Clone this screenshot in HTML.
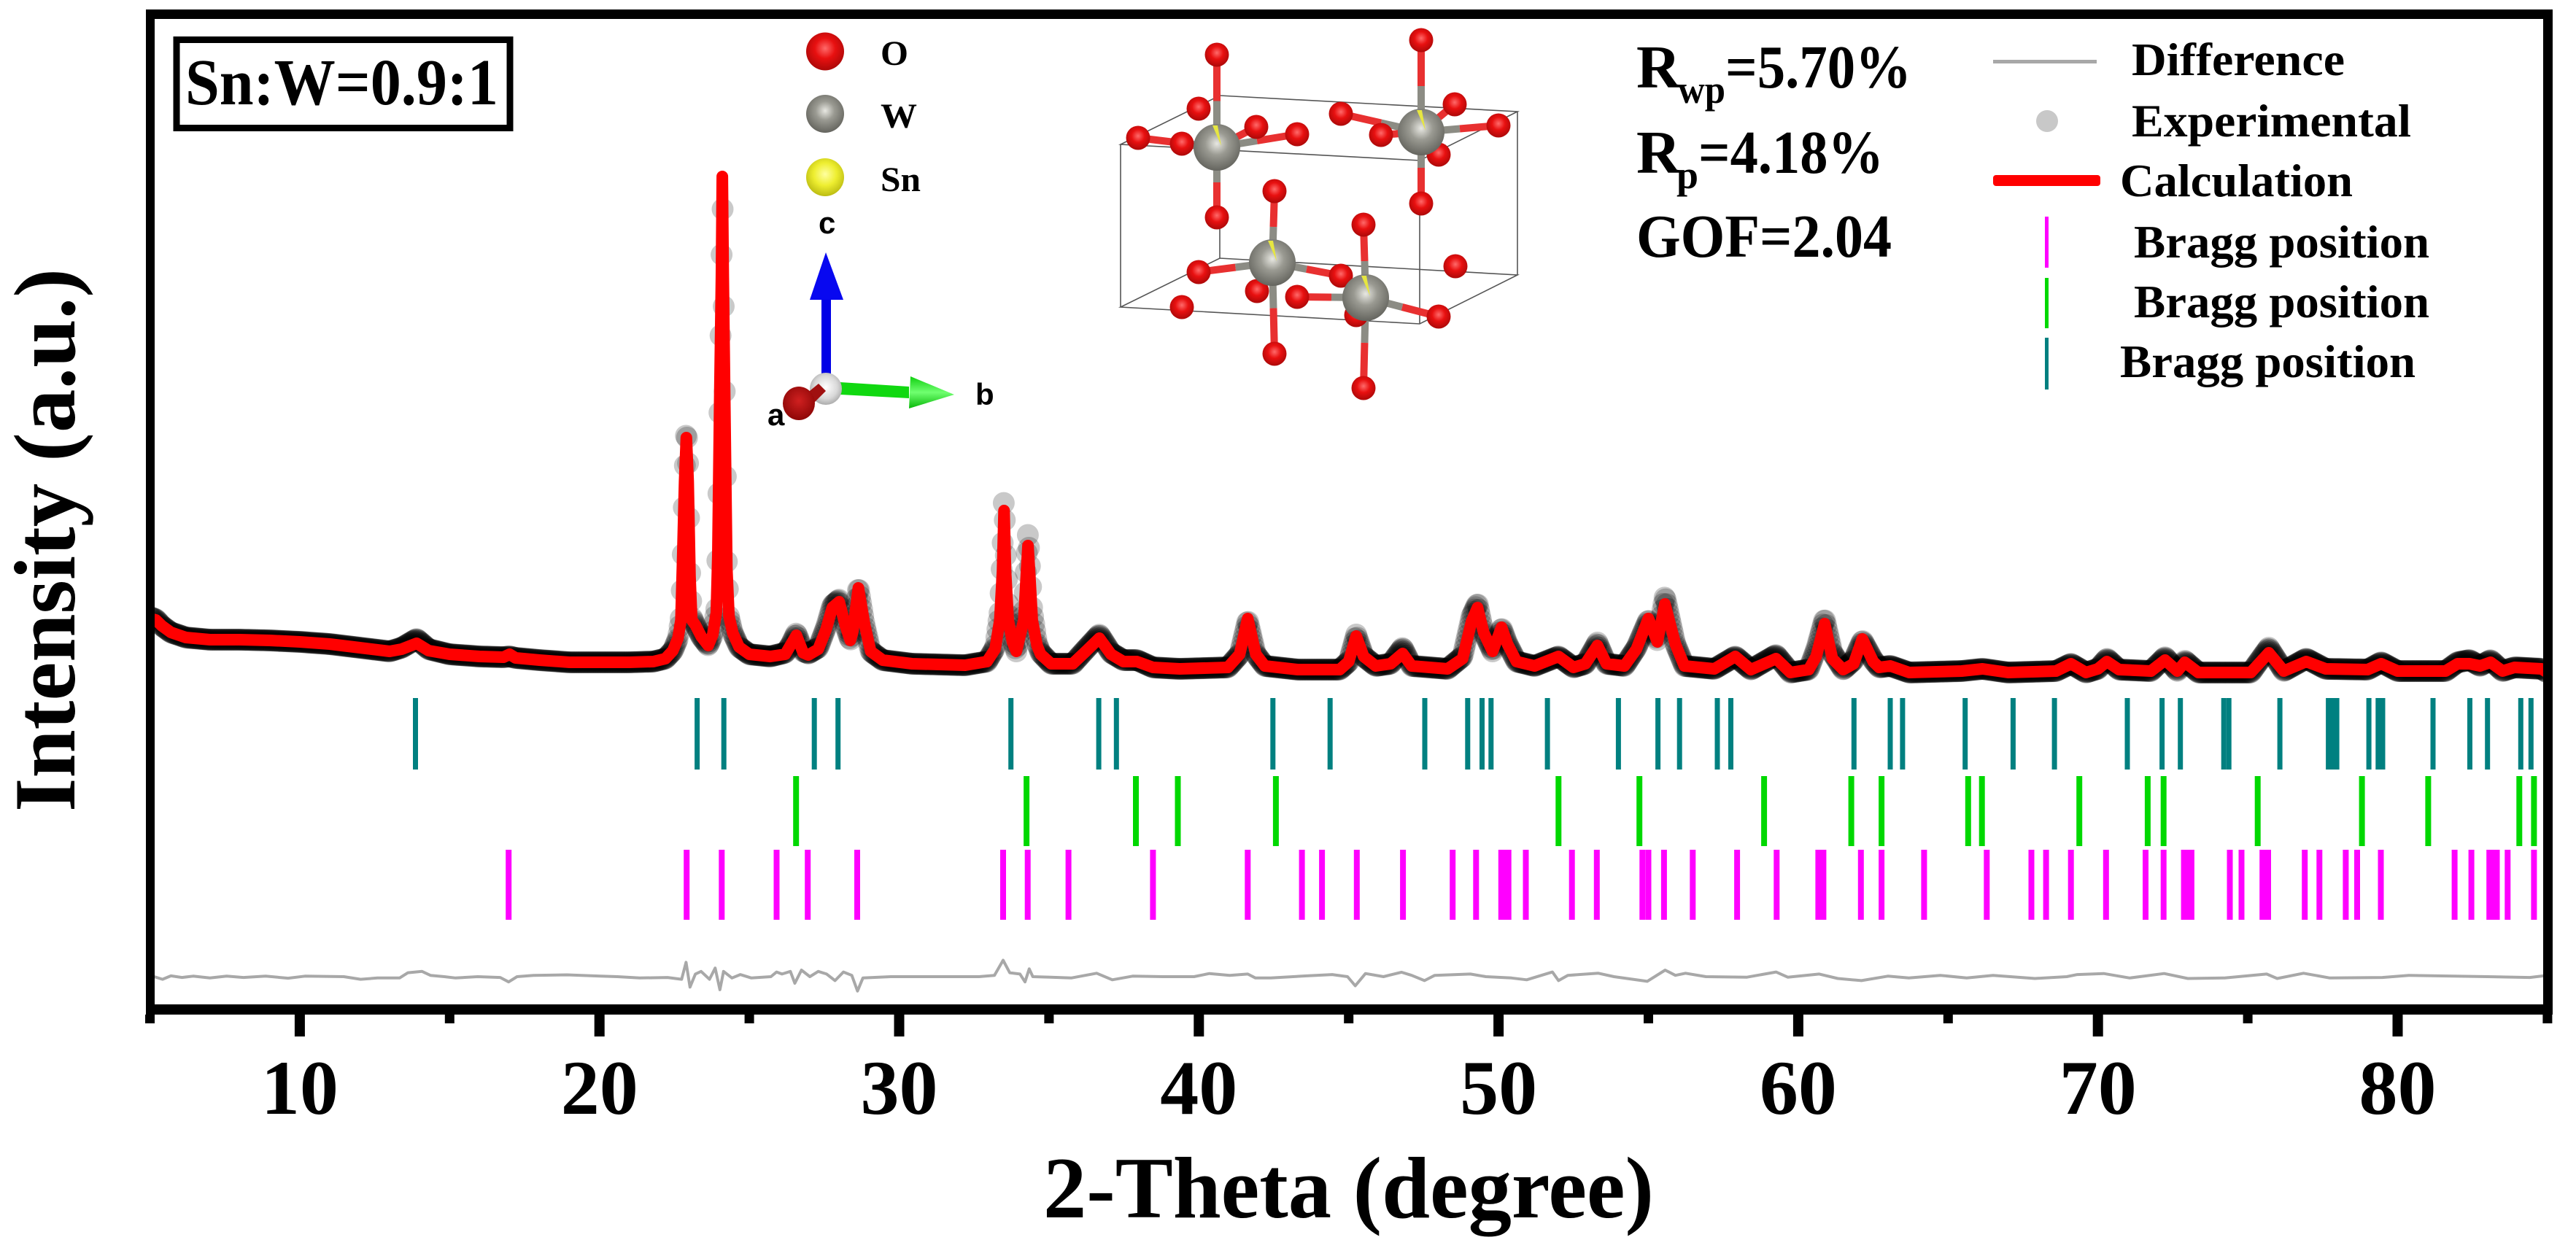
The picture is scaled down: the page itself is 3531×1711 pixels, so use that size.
<!DOCTYPE html>
<html lang="en">
<head>
<meta charset="utf-8">
<title>Rietveld refinement Sn:W=0.9:1</title>
<style>
html,body{margin:0;padding:0;background:#fff;}
svg{display:block;}
text{font-family:"Liberation Serif",serif;font-weight:bold;fill:#000;}
.sans{font-family:"Liberation Sans",sans-serif;}
</style>
</head>
<body>
<svg id="chart" xmlns="http://www.w3.org/2000/svg" width="3531" height="1711" viewBox="0 0 3531 1711">
<defs>
<clipPath id="plot-clip"><rect x="205" y="20" width="3287" height="1360"/></clipPath>
<radialGradient id="ball-red" cx="0.5" cy="0.42" r="0.6"><stop offset="0" stop-color="#ff6a6a"/><stop offset="0.45" stop-color="#e81010"/><stop offset="1" stop-color="#a80808"/></radialGradient>
<radialGradient id="ball-dark-red" cx="0.5" cy="0.42" r="0.6"><stop offset="0" stop-color="#d02020"/><stop offset="1" stop-color="#8c0606"/></radialGradient>
<radialGradient id="ball-grey" cx="0.5" cy="0.42" r="0.62"><stop offset="0" stop-color="#e8e8e2"/><stop offset="0.4" stop-color="#9a9a92"/><stop offset="1" stop-color="#5e5e58"/></radialGradient>
<radialGradient id="ball-yellow" cx="0.5" cy="0.42" r="0.6"><stop offset="0" stop-color="#ffffa0"/><stop offset="0.5" stop-color="#eeee30"/><stop offset="1" stop-color="#b8b810"/></radialGradient>
<radialGradient id="ball-white" cx="0.5" cy="0.45" r="0.6"><stop offset="0" stop-color="#ffffff"/><stop offset="0.6" stop-color="#d8d8d8"/><stop offset="1" stop-color="#a0a0a0"/></radialGradient>
<linearGradient id="arrow-green" x1="0" y1="0" x2="0" y2="1"><stop offset="0" stop-color="#10d010"/><stop offset="0.5" stop-color="#70ff70"/><stop offset="1" stop-color="#08b808"/></linearGradient>
</defs>

<g id="data-layer" clip-path="url(#plot-clip)">
<g id="experimental-series"></g>
<polyline id="calculation-line" fill="none" stroke="#ff0000" stroke-width="16" stroke-linejoin="round" stroke-linecap="butt"/>
<polyline id="difference-line" fill="none" stroke="#a8a8a8" stroke-width="4" stroke-linejoin="round"/>
<g id="bragg-teal"></g>
<g id="bragg-green"></g>
<g id="bragg-magenta"></g>
</g>

<g fill="#000">
<rect x="200" y="13" width="3299" height="13"/>
<rect x="200" y="13" width="12" height="1378"/>
<rect x="3486" y="13" width="13" height="1378"/>
<rect x="200" y="1377" width="3299" height="14"/>
</g>
<g id="x-ticks"></g>
<g id="x-labels" font-size="106" text-anchor="middle"></g>

<text x="1430" y="1669" font-size="120" textLength="837" lengthAdjust="spacingAndGlyphs">2-Theta (degree)</text>
<text transform="translate(102,1113) rotate(-90)" font-size="120" textLength="745" lengthAdjust="spacingAndGlyphs">Intensity (a.u.)</text>

<g>
<rect x="242" y="54.5" width="457" height="121" fill="#fff" stroke="#000" stroke-width="9"/>
<text x="254" y="143" font-size="90" textLength="429" lengthAdjust="spacingAndGlyphs">Sn:W=0.9:1</text>
</g>

<g>
<circle cx="1131" cy="70.5" r="26" fill="url(#ball-red)"/>
<text x="1207" y="89" font-size="48" textLength="38" lengthAdjust="spacingAndGlyphs">O</text>
<circle cx="1131" cy="156" r="26" fill="url(#ball-grey)"/>
<text x="1207" y="175" font-size="48" textLength="50" lengthAdjust="spacingAndGlyphs">W</text>
<circle cx="1131" cy="243" r="26" fill="url(#ball-yellow)"/>
<text x="1207" y="262" font-size="48" textLength="55" lengthAdjust="spacingAndGlyphs">Sn</text>
</g>

<g>
<rect x="1126" y="405" width="13" height="110" fill="#0000e6"/>
<polygon points="1132,346 1110,411 1156,411" fill="#0808f0"/>
<polygon points="1152,524 1246,530 1246,546 1152,541" fill="#10d810"/>
<polygon points="1248,516 1308,541 1246,560" fill="url(#arrow-green)"/>
<circle cx="1132" cy="533" r="22" fill="url(#ball-white)"/>
<polygon points="1105,540 1122,526 1132,536 1112,556" fill="#a01010"/>
<ellipse cx="1095" cy="553" rx="22" ry="23" fill="url(#ball-dark-red)"/>
<text class="sans" x="1122" y="320" font-size="42">c</text>
<text class="sans" x="1052" y="583" font-size="42">a</text>
<text class="sans" x="1337" y="555" font-size="42">b</text>
</g>

<g id="crystal">
<g fill="none" stroke="#555" stroke-width="1.6">
<polygon points="1672,131 2080,153 1946,220 1536,198"/>
<polygon points="1672,354 2080,377 1946,444 1536,421"/>
<line x1="1536" y1="198" x2="1536" y2="421"/>
<line x1="1946" y1="220" x2="1946" y2="444"/>
<line x1="2080" y1="153" x2="2080" y2="377"/>
<line x1="1672" y1="131" x2="1672" y2="354"/>
</g>
<g id="bonds" stroke-width="10"></g>
<g id="oxygen-atoms"></g>
<g id="metal-atoms"></g>
</g>

<g>
<text x="2243" y="120" font-size="84">R</text>
<text x="2300" y="141" font-size="54" textLength="65" lengthAdjust="spacingAndGlyphs">wp</text>
<text x="2365" y="120" font-size="84" textLength="255" lengthAdjust="spacingAndGlyphs">=5.70%</text>
<text x="2243" y="237" font-size="84">R</text>
<text x="2298" y="258" font-size="54" textLength="30" lengthAdjust="spacingAndGlyphs">p</text>
<text x="2328" y="237" font-size="84" textLength="254" lengthAdjust="spacingAndGlyphs">=4.18%</text>
<text x="2243" y="352" font-size="84" textLength="350" lengthAdjust="spacingAndGlyphs">GOF=2.04</text>
</g>

<g>
<g>
<rect x="2732" y="82" width="142" height="5" fill="#a8a8a8"/>
<text x="2922" y="103" font-size="64" textLength="292" lengthAdjust="spacingAndGlyphs">Difference</text>
</g>
<g>
<circle cx="2806" cy="166" r="15" fill="#c8c8c8"/>
<text x="2922" y="187" font-size="64" textLength="383" lengthAdjust="spacingAndGlyphs">Experimental</text>
</g>
<g>
<rect x="2732" y="240" width="147" height="15" rx="4" fill="#ff0000"/>
<text x="2906" y="269" font-size="64" textLength="319" lengthAdjust="spacingAndGlyphs">Calculation</text>
</g>
<g>
<rect x="2803" y="297" width="5" height="70" fill="#ff00ff"/>
<text x="2925" y="353" font-size="64" textLength="405" lengthAdjust="spacingAndGlyphs">Bragg position</text>
</g>
<g>
<rect x="2803" y="381" width="5" height="69" fill="#00d800"/>
<text x="2925" y="435" font-size="64" textLength="405" lengthAdjust="spacingAndGlyphs">Bragg position</text>
</g>
<g>
<rect x="2803" y="463" width="5" height="71" fill="#008080"/>
<text x="2906" y="517" font-size="64" textLength="405" lengthAdjust="spacingAndGlyphs">Bragg position</text>
</g>
</g>
</svg>

<script>
// ---- chart data ----
const thetaDeg = [
5.0,5.2,5.4,5.7,6.2,7.0,8.0,9.0,10.0,11.0,
12.0,13.0,13.4,13.9,14.3,15.0,16.0,16.8,17.0,17.2,
18.0,19.0,20.0,21.0,21.8,22.2,22.45,22.62,22.72,22.78,
22.84,22.9,22.96,23.02,23.08,23.2,23.4,23.63,23.78,23.9,
23.95,24.01,24.07,24.1,24.13,24.19,24.25,24.32,24.45,24.66,
25.0,25.7,26.2,26.37,26.57,26.8,26.97,27.3,27.56,27.77,
28.0,28.2,28.37,28.45,28.64,28.85,29.05,29.45,30.43,32.2,
32.93,33.2,33.36,33.45,33.5,33.55,33.64,33.78,33.91,34.16,34.24,34.3,34.36,34.44,34.6,34.72,
35.07,35.79,36.23,36.68,37.07,37.48,37.93,38.47,39.36,40.97,
41.36,41.63,41.9,42.2,43.3,44.7,45.0,45.25,45.5,45.9,
46.4,46.8,47.1,48.3,48.8,49.1,49.3,49.5,49.8,50.1,
50.3,50.6,51.2,52.0,52.5,52.9,53.3,53.6,54.2,54.6,
55.0,55.3,55.55,55.9,56.2,57.2,57.9,58.42,59.26,59.74,
60.35,60.6,60.88,61.14,61.5,61.85,62.14,62.5,62.7,63.07,
63.7,65.45,66.15,67.0,68.6,69.1,69.6,70.0,70.3,70.7,
71.77,72.24,72.65,72.9,73.35,75.1,75.7,76.2,76.95,77.6,
79.0,79.45,80.0,81.6,82.0,82.4,82.75,83.1,83.5,83.9,84.8,85.0];
const calcIntensity = [
529,527,519,510,503,500,500,499,497,494,
489,484,487,495,485,480,477,476,480,475,
472,469,469,469,470,474,485,502,527,617,
717,777,717,587,527,520,504,492,507,537,
617,817,997,1135,997,797,597,532,509,490,
480,477,480,492,506,482,479,487,514,544,
552,520,499,510,571,520,484,472,467,465,
470,487,527,594,677,594,527,497,484,527,587,629,587,527,492,480,
467,467,484,502,480,470,470,462,460,462,
480,529,480,464,459,459,470,505,477,464,
467,481,464,460,474,525,544,510,484,517,
494,470,464,477,462,467,492,467,464,487,
529,497,549,494,464,460,477,459,474,455,
459,477,522,474,459,467,501,470,462,464,
455,457,460,455,457,467,455,460,470,459,
457,472,457,469,455,455,482,457,470,460,
459,467,457,457,467,467,464,469,457,462,460,455];
const expIntensity = [
531,528,519,510,503,500,500,499,497,494,
489,484,489,501,487,480,477,476,477,475,
472,469,469,469,470,474,485,502,532,617,
727,797,737,597,531,520,504,492,507,542,
637,827,1007,1132,1007,807,607,532,509,490,
480,477,482,492,509,484,481,489,517,547,
555,520,499,510,573,520,484,472,467,465,
470,489,540,625,703,625,540,500,484,540,605,647,605,540,495,482,
467,467,487,507,482,472,472,462,460,462,
480,527,480,464,459,459,470,507,477,464,
467,489,464,460,477,532,550,510,484,516,
494,470,464,477,462,467,496,467,464,489,
527,499,560,494,464,460,477,459,479,455,
459,487,529,482,459,472,499,472,462,464,
455,457,460,455,457,467,455,460,474,459,
457,476,457,471,455,455,489,457,474,460,
459,469,457,457,469,472,464,472,457,462,460,455];
const diffTheta = [
5.14,5.42,5.7,6.07,6.44,7.0,7.56,8.12,8.86,9.61,10.17,11.47,12.03,12.59,13.33,13.61,14.08,14.36,14.82,15.2,
15.94,16.69,16.97,17.25,17.8,18.92,20.04,20.6,21.34,22.27,22.74,22.89,23.02,23.2,23.39,23.67,23.86,24.02,24.14,24.42,
24.7,25.07,25.72,25.91,26.09,26.37,26.52,26.74,27.02,27.3,27.58,27.86,28.14,28.42,28.61,28.79,29.72,31.58,32.66,33.18,
33.47,33.69,34.03,34.2,34.34,34.46,35.06,35.74,36.59,37.11,37.79,38.81,39.84,40.35,41.03,41.63,41.89,42.4,43.6,44.45,
44.96,45.22,45.56,46.16,46.76,47.1,47.53,47.87,49.06,49.58,50.43,50.94,51.8,52.0,52.31,53.33,53.85,54.96,55.56,55.9,
56.24,56.92,58.29,59.26,59.65,60.7,61.32,62.11,62.99,63.69,64.74,65.62,66.5,67.9,68.96,69.31,70.19,71.06,72.21,73.0,
74.23,75.63,75.98,76.86,77.74,79.49,80.37,83.0,84.41,85.0];
const diffValues = [
0,-3.6,1.1,-1.1,0.7,-1.8,0.7,-1.1,0.7,-2.1,0.7,0,-3.6,-1.8,-1.8,5.4,7.2,1.8,0,-1.8,
0,-1.1,-7.2,0,1.8,2.5,0.7,0,-1.8,-1.1,-3.6,19.7,-14.3,3.6,7.2,-3.6,11.8,-17.9,7.2,-1.8,
2.9,-1.8,0,6.4,3.6,7.2,-9,9,0,7.2,3.6,-5.4,6.4,1.8,-19.7,-1.8,0,0,0,1.8,
22.5,5.4,3.6,-7.2,10.7,0,-0.7,-1.8,4.7,-4.3,0.7,0,0,4.3,1.8,3.6,-1.8,-1.8,1.1,2.9,
0,-12.5,4.3,0,6.1,1.8,-5.4,1.8,3.6,0,-1.8,-4.3,6.4,-5.4,1.8,4.7,0,-6.4,9,1.8,
4.7,0,-0.7,6.4,-0.7,3.6,-2.5,-5.4,0.7,-1.8,1.8,-1.8,1.8,-2.5,0,2.9,4.3,-1.8,4.3,-2.5,
-1.8,3.6,-2.5,4.7,-1.8,-1.1,1.8,0,-1.1,1.8];
const diffOffset = 38;
const braggTeal = [13.86,23.26,24.15,27.17,27.96,33.73,36.66,37.25,42.47,44.38,47.54,48.97,49.45,49.75,51.63,54.0,55.32,56.04,57.3,57.75,61.86,63.07,63.48,65.57,67.17,68.55,70.98,72.14,72.75,74.2,74.37,76.07,77.69,77.83,77.97,79.04,79.35,79.5,81.18,82.41,83.0,84.11,84.45];
const braggGreen = [26.56,34.25,37.9,39.3,42.57,52.0,54.7,58.86,61.77,62.78,65.67,66.13,69.38,71.66,72.19,75.33,78.81,81.02,84.06,84.55];
const braggMagenta = [16.97,22.91,24.08,25.91,26.95,28.6,33.47,34.29,35.65,38.47,41.63,43.44,44.11,45.27,46.81,48.47,49.25,50.09,50.21,50.33,50.91,52.45,53.28,54.8,55.0,55.52,56.48,57.96,59.28,60.67,60.84,62.09,62.78,64.2,66.29,67.78,68.27,69.1,70.27,71.59,72.19,72.87,73.0,73.12,74.4,74.79,75.49,75.68,76.9,77.39,78.27,78.65,79.44,81.9,82.46,83.06,83.18,83.31,83.67,84.55];
const majorTicks = [10,20,30,40,50,60,70,80];
const minorTicks = [5,15,25,35,45,55,65,75,85];

// ---- axis functions ----
const SVGNS = 'http://www.w3.org/2000/svg';
function xScale(theta){ return 205.5 + (theta - 5) * 41.08; }
function yScale(intensity){ return 1377 - intensity; }
function make(tag, parent){ const el = document.createElementNS(SVGNS, tag); parent.appendChild(el); return el; }

// experimental points: measurement step of the diffractometer scan
const expGroup = document.getElementById('experimental-series');
const scanStep = 0.035;
let seg = 0;
for (let t = 5; t <= 85; t += scanStep) {
  while (seg < thetaDeg.length - 2 && thetaDeg[seg + 1] < t) seg++;
  const f = (t - thetaDeg[seg]) / (thetaDeg[seg + 1] - thetaDeg[seg]);
  const v = expIntensity[seg] + (expIntensity[seg + 1] - expIntensity[seg]) * f;
  const dot = make('circle', expGroup);
  
  
  dot.setAttribute('cx', xScale(t).toFixed(1));
  dot.setAttribute('cy', yScale(v).toFixed(1));
  dot.setAttribute('r', '15');
  dot.setAttribute('fill', '#000');
  dot.setAttribute('fill-opacity', '0.21');
}

document.getElementById('calculation-line').setAttribute('points',
  thetaDeg.map((t, i) => xScale(t).toFixed(1) + ',' + yScale(calcIntensity[i]).toFixed(1)).join(' '));
document.getElementById('difference-line').setAttribute('points',
  diffTheta.map((t, i) => xScale(t).toFixed(1) + ',' + yScale(diffOffset + diffValues[i]).toFixed(1)).join(' '));

function drawBragg(id, positions, color, y0, y1, w) {
  const g = document.getElementById(id);
  positions.forEach(function (p) {
    const r = make('rect', g);
    
    
    r.setAttribute('x', (xScale(p) - w / 2).toFixed(1));
    r.setAttribute('y', y0);
    r.setAttribute('width', w);
    r.setAttribute('height', y1 - y0);
    r.setAttribute('fill', color);
  });
}
drawBragg('bragg-teal', braggTeal, '#008080', 957, 1055, 7);
drawBragg('bragg-green', braggGreen, '#00d800', 1064, 1160, 8);
drawBragg('bragg-magenta', braggMagenta, '#ff00ff', 1165, 1261, 8);

const tickGroup = document.getElementById('x-ticks');
majorTicks.forEach(function (v) {
  const t = make('rect', tickGroup);
  
  
  t.setAttribute('x', xScale(v) - 7);
  t.setAttribute('y', 1391);
  t.setAttribute('width', 14);
  t.setAttribute('height', 30);
  const lab = make('text', document.getElementById('x-labels'));
  
  
  lab.setAttribute('x', xScale(v));
  lab.setAttribute('y', 1527);
  lab.textContent = String(v);
});
minorTicks.forEach(function (v) {
  const t = make('rect', tickGroup);
  
  
  t.setAttribute('x', xScale(v) - 6.5);
  t.setAttribute('y', 1391);
  t.setAttribute('width', 13);
  t.setAttribute('height', 12);
});

// ---- crystal structure illustration ----
const metalSites = [[1668,202],[1948,181],[1744,360],[1872,408]];
const bondEnds = [
  [[1668,75],[1668,298],[1620,197],[1560,189],[1778,184],[1722,174]],
  [[1948,55],[1948,279],[1838,156],[2054,172],[1893,185],[1994,143],[1972,212]],
  [[1747,262],[1747,485],[1643,373],[1838,378],[1723,399]],
  [[1869,308],[1869,532],[1778,407],[1972,434],[1859,432]]
];
const oxygenSites = [[1668,75],[1948,55],[1643,149],[1838,156],[1994,143],[1722,174],[1778,184],[1560,189],[1620,197],[1893,185],[2054,172],[1972,212],[1747,262],[1668,298],[1948,279],[1869,308],[1995,365],[1643,373],[1838,378],[1723,399],[1778,407],[1620,421],[1859,432],[1972,434],[1747,485],[1869,532]];
const bondGroup = document.getElementById('bonds');
metalSites.forEach(function (m, i) {
  bondEnds[i].forEach(function (o) {
    const mx = (m[0] + o[0]) / 2;
    const my = (m[1] + o[1]) / 2;
    const a = make('line', bondGroup);
    
    
    a.setAttribute('x1', m[0]); a.setAttribute('y1', m[1]);
    a.setAttribute('x2', mx); a.setAttribute('y2', my);
    a.setAttribute('stroke', '#8c8c84');
    const b = make('line', bondGroup);
    
    
    b.setAttribute('x1', mx); b.setAttribute('y1', my);
    b.setAttribute('x2', o[0]); b.setAttribute('y2', o[1]);
    b.setAttribute('stroke', '#e83030');
  });
});
const oxyGroup = document.getElementById('oxygen-atoms');
oxygenSites.forEach(function (o) {
  const c = make('circle', oxyGroup);
  
  
  c.setAttribute('cx', o[0]); c.setAttribute('cy', o[1]); c.setAttribute('r', 16.5);
  c.setAttribute('fill', 'url(#ball-red)');
});
const metalGroup = document.getElementById('metal-atoms');
metalSites.forEach(function (m) {
  const c = make('circle', metalGroup);
  
  
  c.setAttribute('cx', m[0]); c.setAttribute('cy', m[1]); c.setAttribute('r', 32);
  c.setAttribute('fill', 'url(#ball-grey)');
  const w = make('polygon', metalGroup);
  
  
  w.setAttribute('points', (m[0] - 6) + ',' + (m[1] - 30) + ' ' + (m[0] + 1) + ',' + (m[1] - 30) + ' ' + (m[0] + 6) + ',' + (m[1] - 2));
  w.setAttribute('fill', '#e6e640');
});
</script>
</body>
</html>
